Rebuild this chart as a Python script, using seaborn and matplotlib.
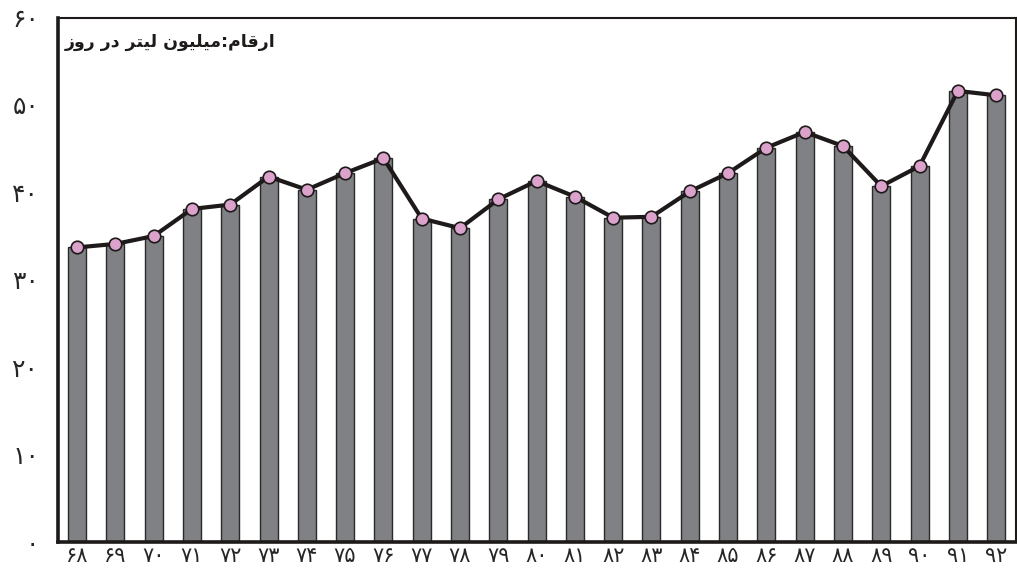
'''daily volume chart, bars plus line'''
import pandas as pd
import matplotlib
matplotlib.use('Agg')
import matplotlib.pyplot as plt
import seaborn as sns

# data
years = ['۶۸', '۶۹', '۷۰', '۷۱', '۷۲', '۷۳', '۷۴', '۷۵', '۷۶', '۷۷', '۷۸', '۷۹', '۸۰',
         '۸۱', '۸۲', '۸۳', '۸۴', '۸۵', '۸۶', '۸۷', '۸۸', '۸۹', '۹۰', '۹۱', '۹۲']
values = [33.7, 34.1, 35.0, 38.1, 38.6, 41.8, 40.3, 42.2, 43.9, 37.0, 35.9, 39.2, 41.3,
          39.5, 37.1, 37.2, 40.1, 42.2, 45.1, 46.9, 45.3, 40.7, 43.0, 51.6, 51.1]
y_ticks = [0, 10, 20, 30, 40, 50, 60]
y_labels = ['۰', '۱۰', '۲۰', '۳۰', '۴۰', '۵۰', '۶۰']
title = 'ارقام:میلیون لیتر در روز'

# matplotlib has no arabic shaping, so pick the presentation forms by hand
# (isolated, final, initial, medial)
FORMS = {
    'ا': ('\uFE8D', '\uFE8E', None, None),
    'د': ('\uFEA9', '\uFEAA', None, None),
    'ر': ('\uFEAD', '\uFEAE', None, None),
    'ز': ('\uFEAF', '\uFEB0', None, None),
    'و': ('\uFEED', '\uFEEE', None, None),
    'ت': ('\uFE95', '\uFE96', '\uFE97', '\uFE98'),
    'ق': ('\uFED5', '\uFED6', '\uFED7', '\uFED8'),
    'ل': ('\uFEDD', '\uFEDE', '\uFEDF', '\uFEE0'),
    'م': ('\uFEE1', '\uFEE2', '\uFEE3', '\uFEE4'),
    'ن': ('\uFEE5', '\uFEE6', '\uFEE7', '\uFEE8'),
    'ی': ('\uFBFC', '\uFBFD', '\uFEF3', '\uFEF4'),
}


def shape(s):
    out = []
    for i, ch in enumerate(s):
        if ch not in FORMS:
            out.append(ch)
            continue
        prev = s[i - 1] if i > 0 else ''
        nxt = s[i + 1] if i + 1 < len(s) else ''
        join_prev = prev in FORMS and FORMS[prev][2] is not None
        join_next = nxt in FORMS and FORMS[ch][2] is not None
        iso, fin, ini, med = FORMS[ch]
        if join_prev and join_next:
            out.append(med)
        elif join_prev:
            out.append(fin)
        elif join_next:
            out.append(ini)
        else:
            out.append(iso)
    return ''.join(out)[::-1]


df = pd.DataFrame({'year': years, 'value': values})

sns.set_style('white')
plt.rcParams['font.family'] = ['DejaVu Sans']

fig = plt.figure(figsize=(10.17, 5.70), dpi=100)
ax = fig.add_axes([58 / 1017, 1 - 542 / 570, (1016 - 58) / 1017, (542 - 17.5) / 570])

sns.barplot(data=df, x='year', y='value', color='#808184', saturation=1,
            edgecolor='#2a2a2a', linewidth=1, width=0.47, ax=ax)
sns.pointplot(data=df, x='year', y='value', color='#1e1a1a', errorbar=None,
              markers='o', markersize=9, linewidth=3, ax=ax)
for ln in ax.lines:
    ln.set_markerfacecolor('#dba2cc')
    ln.set_markeredgecolor('#1e1a1a')
    ln.set_markeredgewidth(1.2)

ax.set_xlim(-0.5, 24.52)
ax.set_ylim(0, 60)
ax.set_yticks(y_ticks)
ax.set_yticklabels(y_labels, fontsize=18)
ax.tick_params(axis='x', length=0, labelsize=15, pad=3)
ax.tick_params(axis='y', length=4.5, width=2, direction='out', pad=9, color='#1e1a1a')
ax.set_xlabel('')
ax.set_ylabel('')

for side in ['left', 'bottom']:
    ax.spines[side].set_linewidth(2.6)
    ax.spines[side].set_color('#1e1a1a')
for side in ['top', 'right']:
    ax.spines[side].set_linewidth(1.5)
    ax.spines[side].set_color('#1e1a1a')

ax.text(0.007, 0.953, shape(title), transform=ax.transAxes, ha='left', va='center',
        fontsize=12.5, fontweight='bold', color='#1e1a1a')

fig.savefig('out.png', dpi=100)
